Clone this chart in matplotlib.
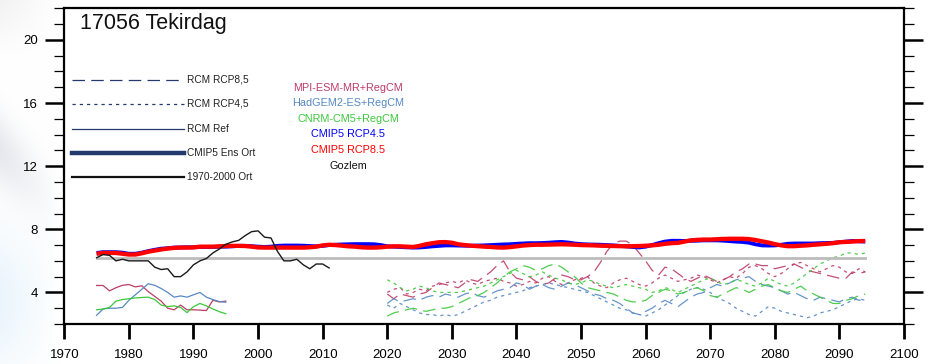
import numpy as np
import matplotlib
matplotlib.use("Agg")
import matplotlib.pyplot as plt

plt.rcParams['font.family'] = ['Liberation Sans', 'DejaVu Sans']

# ---------------- data ----------------
title = "17056 Tekirdag"

obs_years = list(range(1975, 2012))
obs_vals = [6.2, 6.4, 6.35, 6.0, 6.1, 6.0, 6.0, 6.0, 6.0, 5.6, 5.45, 5.5, 5.0, 5.0,
            5.3, 5.75, 6.0, 6.15, 6.5, 6.75, 7.05, 7.2, 7.3, 7.6, 7.85, 7.9, 7.5,
            7.45, 6.6, 6.0, 6.0, 6.1, 5.75, 5.5, 5.8, 5.8, 5.55]

obs_mean_years = [1975, 2094]
obs_mean_val = 6.17

ens_years = list(range(1975, 2095))
cmip_rcp45 = [6.5, 6.55, 6.55, 6.55, 6.52, 6.45, 6.45, 6.52, 6.62, 6.7,
              6.77, 6.8, 6.84, 6.85, 6.86, 6.86, 6.88, 6.88, 6.88, 6.9,
              6.9, 6.92, 6.95, 6.95, 6.93, 6.9, 6.88, 6.9, 6.95, 6.97,
              6.97, 6.97, 6.96, 6.94, 6.92, 6.95, 7.0, 7.02, 7.04, 7.05,
              7.06, 7.06, 7.06, 7.05, 7.0, 6.92, 6.9, 6.88, 6.86, 6.84,
              6.85, 6.88, 6.92, 6.95, 6.98, 6.98, 6.97, 6.96, 6.96, 6.97,
              6.98, 7.0, 7.02, 7.04, 7.05, 7.08, 7.1, 7.12, 7.12, 7.13,
              7.15, 7.18, 7.2, 7.16, 7.1, 7.06, 7.04, 7.03, 7.02, 7.0,
              6.98, 6.95, 6.92, 6.88, 6.85, 6.9, 7.0, 7.12, 7.22, 7.27,
              7.27, 7.26, 7.27, 7.28, 7.3, 7.3, 7.3, 7.28, 7.25, 7.22,
              7.2, 7.15, 7.05, 6.98, 6.97, 6.98, 7.02, 7.08, 7.1, 7.1,
              7.1, 7.1, 7.12, 7.13, 7.14, 7.18, 7.22, 7.26, 7.24, 7.22]
cmip_rcp85 = [6.45, 6.5, 6.5, 6.5, 6.45, 6.4, 6.4, 6.48, 6.58, 6.65,
              6.72, 6.78, 6.82, 6.84, 6.84, 6.85, 6.9, 6.9, 6.9, 6.92,
              6.94, 6.95, 6.95, 6.94, 6.9, 6.85, 6.84, 6.84, 6.84, 6.84,
              6.84, 6.84, 6.84, 6.86, 6.9, 6.98, 7.02, 7.0, 6.96, 6.92,
              6.9, 6.86, 6.84, 6.84, 6.86, 6.9, 6.92, 6.92, 6.9, 6.88,
              6.95, 7.05, 7.12, 7.18, 7.19, 7.15, 7.05, 7.0, 6.96, 6.93,
              6.9, 6.88, 6.85, 6.84, 6.87, 6.92, 6.97, 7.0, 7.02, 7.02,
              7.03, 7.04, 7.05, 7.04, 7.02, 7.0, 6.99, 6.98, 6.96, 6.95,
              6.94, 6.93, 6.92, 6.93, 6.94, 6.96, 6.98, 7.02, 7.08, 7.12,
              7.14, 7.22, 7.3, 7.33, 7.35, 7.35, 7.37, 7.39, 7.4, 7.4,
              7.4, 7.38, 7.32, 7.24, 7.16, 7.06, 6.98, 6.93, 6.93, 6.96,
              6.98, 7.02, 7.05, 7.08, 7.12, 7.18, 7.2, 7.22, 7.25, 7.26]

ref_years = list(range(1975, 1996))
mpi_ref = [4.44, 4.44, 4.1, 4.3, 4.45, 4.5, 4.35, 4.42, 4.05, 3.75, 3.45,
           3.0, 2.9, 3.2, 2.9, 2.9, 2.88, 2.85, 3.5, 3.4, 3.45]
had_ref = [2.55, 2.95, 3.0, 3.0, 3.05, 3.5, 3.85, 4.2, 4.55, 4.45, 4.25,
           4.0, 3.7, 3.78, 3.7, 3.85, 4.0, 3.7, 3.55, 3.42, 3.38]
cnrm_ref = [2.9, 2.95, 3.05, 3.45, 3.55, 3.6, 3.65, 3.68, 3.7, 3.55, 3.2,
            3.1, 3.15, 3.05, 2.72, 3.1, 3.3, 3.15, 2.95, 2.78, 2.65]

fut_years = list(range(2020, 2095))
mpi_85 = [3.9, 3.6, 3.9, 3.8, 3.7, 3.9, 4.0, 4.3, 4.6, 4.5,
          4.4, 4.3, 4.6, 4.8, 4.7, 5.0, 5.3, 5.7, 6.0, 5.3,
          4.9, 4.8, 5.0, 4.7, 4.5, 4.6, 4.9, 5.1, 5.0, 4.8,
          4.8, 5.0, 5.3, 5.9, 6.6, 7.1, 7.25, 7.25, 7.0, 6.5,
          6.0, 5.4, 5.1, 5.6, 5.5, 5.2, 4.9, 4.7, 4.9, 5.1,
          4.9, 4.7, 4.8, 5.0, 5.3, 5.5, 5.8, 5.8, 5.7, 5.7,
          5.5, 5.6, 5.7, 5.8, 5.6, 5.4, 5.3, 5.2, 5.1, 5.0,
          4.9, 4.9, 5.3, 5.2, 5.3]
mpi_45 = [4.0, 4.2, 4.3, 3.9, 4.0, 4.2, 4.1, 4.4, 4.5, 4.6,
          4.7, 4.6, 4.8, 4.6, 4.5, 4.7, 4.8, 4.9, 4.7, 4.6,
          4.4, 4.5, 4.7, 4.6, 4.9, 5.0, 4.7, 4.5, 4.6, 4.8,
          4.9, 5.0, 4.6, 4.4, 4.3, 4.6, 4.8, 4.9, 4.7, 4.5,
          4.4, 4.6, 4.9, 5.1, 4.9, 4.7, 4.8, 4.9, 5.1, 5.0,
          4.8, 4.6, 4.8, 5.0, 4.9, 5.2, 5.6, 5.7, 5.5, 5.2,
          5.0, 5.2, 5.5, 5.8, 5.9, 5.7, 5.5, 5.3, 5.5, 5.7,
          5.6, 5.3, 5.2, 5.5, 5.3]
had_85 = [3.3, 3.6, 3.4, 3.5, 3.6, 3.5, 3.7, 3.8, 3.7, 3.9,
          3.8, 3.7, 3.9, 4.0, 3.8, 3.7, 3.9, 4.1, 4.2, 4.3,
          4.6, 4.5, 4.2, 4.4, 4.5, 4.3, 4.2, 4.4, 4.6, 4.5,
          4.3, 4.1, 3.9, 3.8, 3.6, 3.5, 3.3, 3.0, 2.7, 2.6,
          2.8, 3.0, 3.3, 3.5, 3.3, 3.1, 3.4, 3.7, 3.9, 4.0,
          4.3, 4.5, 4.4, 4.6, 4.8, 4.9, 5.0, 4.7, 4.5, 4.4,
          4.3, 4.1, 3.9, 4.0, 3.8, 3.6, 3.5, 3.7, 3.6, 3.5,
          3.4, 3.6, 3.7, 3.5, 3.6]
had_45 = [3.2, 3.0, 3.3, 3.1, 2.9, 2.7, 2.6, 2.6, 2.5, 2.6,
          2.5, 2.6, 2.8, 3.0, 3.2, 3.4, 3.5, 3.7, 3.8, 3.9,
          4.0, 4.1, 4.3, 4.4, 4.5, 4.6, 4.5, 4.4, 4.3, 4.2,
          4.1, 4.0, 3.8, 3.6, 3.4, 3.2, 3.0, 2.9, 2.7, 2.6,
          2.5, 2.7, 2.9, 3.2, 3.5, 3.8, 4.0, 4.2, 4.3, 4.2,
          4.0, 3.7, 3.5, 3.3, 3.0, 2.8, 2.6, 2.5, 2.8, 3.1,
          3.0, 2.8, 2.7, 2.6, 2.5, 2.4, 2.5, 2.7, 2.8, 2.9,
          3.1, 3.3, 3.5, 3.6, 3.5]
cnrm_85 = [2.5, 2.7, 2.8, 2.9, 3.0, 2.9, 2.8, 2.9, 3.0, 3.0,
           3.1, 3.3, 3.5, 3.7, 3.8, 4.0, 4.3, 4.6, 5.0, 5.3,
           5.5, 5.7, 5.6, 5.4, 5.5, 5.7, 5.8, 5.6, 5.3, 5.0,
           4.6, 4.3, 4.2, 4.1, 4.0, 3.9, 3.7, 3.5, 3.4, 3.4,
           3.5, 3.8, 4.0, 4.2, 4.1, 3.9, 4.0, 4.2, 4.3, 4.1,
           3.8, 3.7, 3.9, 4.1, 4.3, 4.2, 4.0, 4.2, 4.4, 4.5,
           4.3, 4.1, 4.0, 4.2, 4.4, 4.1, 3.9, 3.7, 3.5, 3.3,
           3.3, 3.5, 3.6, 3.8, 3.9]
cnrm_45 = [4.8, 4.6, 4.3, 4.1, 4.2, 4.4, 4.3, 4.1, 4.0, 4.0,
           4.0, 4.0, 4.1, 4.2, 4.3, 4.4, 4.6, 4.8, 5.0, 5.2,
           5.4, 5.2, 5.0, 5.1, 5.3, 5.1, 4.9, 4.8, 4.6, 4.5,
           4.6, 4.8, 4.7, 4.5, 4.4, 4.3, 4.4, 4.5, 4.4, 4.3,
           4.2, 4.0, 4.1, 4.3, 4.2, 4.0, 4.2, 4.4, 4.6, 4.8,
           4.9, 4.7, 4.5, 4.6, 4.8, 4.7, 4.5, 4.4, 4.6, 4.9,
           4.7, 4.5, 4.4, 4.6, 4.9, 5.2, 5.5, 5.8, 6.0, 6.2,
           6.3, 6.5, 6.5, 6.4, 6.5]

x_ticks = [1970, 1980, 1990, 2000, 2010, 2020, 2030, 2040, 2050, 2060, 2070, 2080, 2090, 2100]
y_ticks = [4, 8, 12, 16, 20]

legend_left = ["RCM RCP8,5", "RCM RCP4,5", "RCM Ref", "CMIP5 Ens Ort", "1970-2000 Ort"]
legend_mid = ["MPI-ESM-MR+RegCM", "HadGEM2-ES+RegCM", "CNRM-CM5+RegCM",
              "CMIP5 RCP4.5", "CMIP5 RCP8.5", "Gozlem"]

# ---------------- styling ----------------
C_MPI = "#bd3c66"
C_HAD = "#5689c4"
C_CNRM = "#3cc83c"
C_NAVY = "#243a6e"
DASH85 = (0, (10, 5))
DASH45 = (0, (2.6, 3.2))

W, H = 933, 364
fig = plt.figure(figsize=(W / 100, H / 100), dpi=100)

# faint decorative background on the left edge
bg = fig.add_axes([0, 0, 1, 1], zorder=-5)
bg.set_axis_off()
gy, gx = np.mgrid[0:H, 0:W]
img = np.ones((H, W, 3))
fade = np.clip(1 - gx / 60.0, 0, 1)
band = np.exp(-((gy - 0.9 * gx - 150) / 35.0) ** 2) * fade
blue = np.exp(-((gy - 300) / 70.0) ** 2) * fade
img[..., 0] -= 0.10 * band + 0.08 * blue
img[..., 1] -= 0.09 * band + 0.04 * blue
img[..., 2] -= 0.07 * band + 0.01 * blue
top = np.clip(1 - gy / 60.0, 0, 1) * fade
img -= 0.05 * top[..., None]
bg.imshow(np.clip(img, 0, 1), extent=[0, 1, 0, 1], aspect='auto')

ax = fig.add_axes([64.3 / W, 40 / H, (904 - 64.3) / W, (324 - 8.3) / H])
ax.set_xlim(1970, 2100)
ax.set_ylim(2, 22)

# future RCM runs
for vals, c, ls in [(mpi_85, C_MPI, DASH85), (mpi_45, C_MPI, DASH45),
                    (had_85, C_HAD, DASH85), (had_45, C_HAD, DASH45),
                    (cnrm_85, C_CNRM, DASH85), (cnrm_45, C_CNRM, DASH45)]:
    ax.plot(fut_years, vals, color=c, lw=0.9, linestyle=ls, alpha=0.9)

# reference RCM runs
ax.plot(ref_years, mpi_ref, color=C_MPI, lw=0.9)
ax.plot(ref_years, had_ref, color=C_HAD, lw=0.9)
ax.plot(ref_years, cnrm_ref, color=C_CNRM, lw=0.9)

# obs mean
ax.plot(obs_mean_years, [obs_mean_val, obs_mean_val], color="#bcbcbc", lw=2.0)
# CMIP5 ensembles
ax.plot(ens_years, cmip_rcp45, color="#0000ff", lw=2.8, solid_capstyle='butt')
ax.plot(ens_years, cmip_rcp85, color="#ff0000", lw=3.1, solid_capstyle='butt')
# observations
ax.plot(obs_years, obs_vals, color="#1a1a1a", lw=1.0)

# axes styling
for s in ax.spines.values():
    s.set_linewidth(1.6)
ax.set_xticks(x_ticks)
ax.set_xticklabels([str(t) for t in x_ticks], fontsize=9.5)
ax.set_yticks(y_ticks)
ax.set_yticklabels([str(t) for t in y_ticks], fontsize=9.5)
ax.set_yticks(np.arange(2, 23, 1), minor=True)
ax.tick_params(axis='x', which='major', direction='out', length=11, width=2.0, pad=7,
               top=False)
ax.tick_params(axis='x', which='minor', bottom=False, top=False)
ax.tick_params(axis='y', which='major', direction='out', length=14, width=1.8, pad=5,
               left=True, right=True)
ax.tick_params(axis='y', which='minor', direction='out', length=7, width=0.9,
               left=True, right=True)

# title
ax.text(80 / W, 1 - 23 / H, title, transform=fig.transFigure, fontsize=15.5,
        va='center', ha='left', color="#111111")

# left legend
leg_rows = [80, 104, 129, 153, 177]
leg_styles = [(C_NAVY, 0.9, DASH85), (C_NAVY, 0.9, DASH45), (C_NAVY, 0.9, '-'),
              (C_NAVY, 3.2, '-'), ("#111111", 1.6, '-')]
for yy, lab, (c, lw, ls) in zip(leg_rows, legend_left, leg_styles):
    yf = 1 - yy / H
    fig.add_artist(plt.Line2D([72 / W, 184 / W], [yf, yf], color=c, lw=lw,
                              linestyle=ls, transform=fig.transFigure))
    fig.text(187 / W, yf, lab, fontsize=7.3, va='center', ha='left', color="#222222")

# middle text legend
mid_rows = [88, 103, 119, 134, 150, 166]
mid_cols = [C_MPI, C_HAD, C_CNRM, "#0000ff", "#ff0000", "#111111"]
for yy, lab, c in zip(mid_rows, legend_mid, mid_cols):
    fig.text(348 / W, 1 - yy / H, lab, fontsize=7.8, va='center', ha='center', color=c)

fig.savefig("out.png", dpi=100)
